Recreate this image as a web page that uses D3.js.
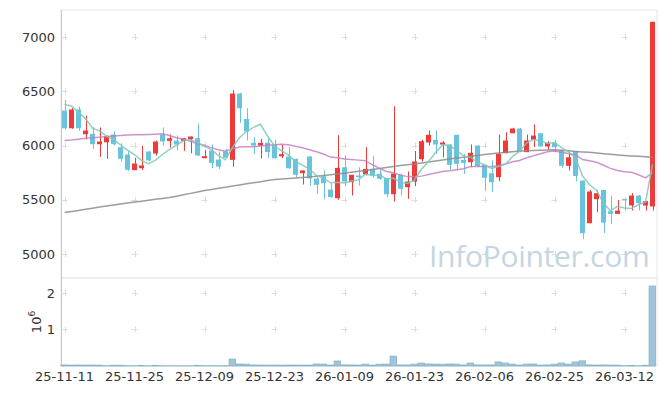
<!DOCTYPE html>
<html><head><meta charset="utf-8">
<script src="https://cdn.jsdelivr.net/npm/d3@7"></script>
<style>body{margin:0;background:#fff}svg{display:block}text{font-family:"DejaVu Sans",sans-serif}</style>
</head><body><svg id="c" width="665" height="396"></svg>
<script>
const dates=["25-11-11","25-11-12","25-11-13","25-11-14","25-11-17","25-11-18","25-11-19","25-11-20","25-11-21","25-11-24",
"25-11-25","25-11-26","25-11-27","25-11-28","25-12-01","25-12-02","25-12-03","25-12-04","25-12-05","25-12-08",
"25-12-09","25-12-10","25-12-11","25-12-12","25-12-15","25-12-16","25-12-17","25-12-18","25-12-19","25-12-22",
"25-12-23","25-12-24","25-12-26","25-12-29","25-12-30","26-01-02","26-01-05","26-01-06","26-01-07","26-01-08",
"26-01-09","26-01-12","26-01-13","26-01-14","26-01-15","26-01-16","26-01-19","26-01-20","26-01-21","26-01-22",
"26-01-23","26-01-26","26-01-27","26-01-28","26-01-29","26-01-30","26-02-02","26-02-03","26-02-04","26-02-05",
"26-02-06","26-02-09","26-02-10","26-02-11","26-02-12","26-02-13","26-02-19","26-02-20","26-02-23","26-02-24",
"26-02-25","26-02-26","26-02-27","26-03-03","26-03-04","26-03-05","26-03-06","26-03-09","26-03-10","26-03-11",
"26-03-12","26-03-13","26-03-16","26-03-17","26-03-18"];
const opens=[6322,6159,6332,6104,6108,6012,6030,6101,5985,5917,
5773,5791,5945,5926,6101,6043,6046,6043,6058,6067,
5883,5954,5871,5945,5868,6479,6245,6025,6000,6025,
6009,5901,5899,5877,5745,5899,5696,5717,5594,5514,
5800,5662,5724,5735,5785,5739,5699,5551,5730,5616,
5668,5874,6028,6052,6009,6009,6099,5868,5846,6000,
5822,5745,5708,5929,6113,6157,5939,6052,6113,5991,
6025,5954,5813,5947,5677,5284,5505,5591,5395,5370,
5508,5447,5539,5447,5438];
const highs=[6421,6344,6359,6276,6169,6166,6092,6132,6021,5951,
5887,5997,5950,6046,6166,6101,6092,6070,6083,6203,
5960,6009,5945,5969,6510,6486,6344,6077,6061,6061,
6052,6006,5985,5880,5770,5899,5714,5770,5653,6095,
5908,5730,5800,5985,5902,5779,5699,6362,5740,5760,
5950,6052,6138,6138,6040,6015,6099,5923,6009,6000,
5822,5862,6101,6123,6163,6160,6101,6194,6113,6040,
6052,5960,5939,5950,5677,5591,5585,5591,5536,5499,
5510,5560,5545,5490,7140];
const lows=[6147,6154,6138,6055,5970,5896,5877,6000,5853,5767,
5773,5773,5855,5908,6000,5982,5954,5951,5929,5902,
5883,5791,5785,5887,5804,6209,6046,5923,5880,5883,
5883,5883,5785,5702,5641,5629,5555,5505,5518,5500,
5625,5539,5631,5724,5705,5684,5524,5484,5539,5509,
5625,5853,6000,5923,5892,5776,5770,5739,5800,5800,
5579,5576,5671,5929,6113,5939,5939,5985,5991,5960,
5939,5795,5770,5671,5137,5284,5385,5195,5279,5370,
5401,5401,5401,5401,5401];
const closes=[6159,6332,6159,6138,6012,6037,6086,6012,5877,5776,
5834,5816,5862,6037,6037,6067,6009,6067,6083,5908,
5902,5840,5806,5887,6479,6344,6129,6000,6025,5939,
5883,5920,5791,5730,5770,5696,5638,5653,5524,5794,
5668,5730,5708,5785,5724,5693,5551,5742,5601,5668,
5853,6040,6099,6009,6028,5822,5831,5840,5933,5809,
5702,5662,5923,6046,6157,5939,6046,6092,5991,6025,
5985,5813,5892,5720,5192,5576,5560,5290,5370,5401,
5499,5539,5468,5487,7140];
const volumes=[28000,25000,27000,24000,26000,22000,9000,21000,20000,8000,
7000,18000,6000,17000,8000,5000,6000,7000,5000,19000,
8000,9000,7000,10000,190000,55000,50000,28000,25000,24000,
26000,22000,25000,27000,24000,26000,55000,52000,25000,136000,
30000,28000,26000,50000,25000,50000,52000,270000,30000,28000,
50000,80000,55000,52000,50000,55000,52000,28000,80000,30000,
27000,28000,110000,80000,52000,25000,52000,55000,26000,28000,
50000,80000,52000,110000,140000,30000,26000,28000,25000,24000,
8000,18000,7000,20000,2190000];
// moving-average values before the window is full
const ma5Head=[6378,6365,6305,6248];
const ma20Head=[6046,6050,6058,6066,6072,6077,6082,6087,6092,6096,6099,6100,6102,6105,6108,6092,6072,6058,6040];
const ma60=[5382,5392,5402,5412,5422,5433,5442,5451,5460,5470,
5479,5487,5496,5504,5512,5521,5533,5546,5559,5572,
5585,5595,5606,5616,5626,5636,5647,5657,5667,5677,
5687,5692,5696,5701,5705,5710,5717,5724,5731,5737,
5744,5753,5762,5770,5779,5788,5797,5806,5815,5822,
5829,5838,5848,5857,5867,5876,5884,5892,5900,5909,
5917,5924,5930,5937,5943,5949,5952,5955,5957,5959,
5960,5956,5951,5946,5941,5937,5931,5925,5919,5913,
5908,5904,5900,5896,5892];
const priceTicks=[5000,5500,6000,6500,7000];
const volTicks=[1e6,2e6];
const volTickLabels=["1","2"];
const xTickLabels=["25-11-11","25-11-25","25-12-09","25-12-23","26-01-09","26-01-23","26-02-06","26-02-25","26-03-12"];

const ma5=closes.map((c,i)=>i<4?ma5Head[i]:d3.mean(closes.slice(i-4,i+1)));
const ma20=closes.map((c,i)=>i<19?ma20Head[i]:d3.mean(closes.slice(i-19,i+1)));

const svg=d3.select("#c");
const L=61,R=656,PT=10,PB=278,VT=278,VB=366;
const x=d3.scaleBand().domain(dates).range([L,R]).paddingInner(0.28).paddingOuter(0.14);
const cx=d=>x(d)+x.bandwidth()/2;
const y=d3.scaleLinear().domain([4779,7249]).range([PB,PT]);
const yv=d3.scaleLinear().domain([0,2.41e6]).range([VB,VT]);
const UP="#ef3a3a",DN="#6ac3dc";

// panel frames
svg.append("rect").attr("x",L).attr("y",PT).attr("width",657-L).attr("height",PB-PT).attr("fill","none").attr("stroke","#e8e8e8");
svg.append("rect").attr("x",L).attr("y",VT).attr("width",657-L).attr("height",VB-VT).attr("fill","none").attr("stroke","#e8e8e8");
svg.append("line").attr("x1",L+0.5).attr("x2",L+0.5).attr("y1",PT).attr("y2",VB).attr("stroke","#c8c8c8");

// grid crosses
const gx=xTickLabels.map(cx);
const crosses=[];
gx.forEach(px=>{priceTicks.forEach(p=>crosses.push([px,y(p)]));volTicks.forEach(v=>crosses.push([px,yv(v)]));});
const cg=svg.append("g").attr("stroke","#dcdcdc").attr("stroke-width",1);
crosses.forEach(([a,b])=>{
  cg.append("line").attr("x1",a-3).attr("x2",a+3).attr("y1",Math.round(b)+0.5).attr("y2",Math.round(b)+0.5);
  cg.append("line").attr("x1",Math.round(a)+0.5).attr("x2",Math.round(a)+0.5).attr("y1",b-3).attr("y2",b+3);
});

// watermark
svg.append("text").attr("x",429).attr("y",267)
  .style("font-family","'Open Sans',sans-serif").style("font-size","30px").style("letter-spacing","-0.3px")
  .attr("fill","#c3d6e2").text("InfoPointer.com");

// axes
const ya=svg.append("g").attr("transform",`translate(${L},0)`).call(d3.axisLeft(y).tickValues(priceTicks).tickSize(0).tickPadding(6).tickFormat(d3.format("d")));
ya.select(".domain").remove();
const yva=svg.append("g").attr("transform",`translate(${L},0)`).call(d3.axisLeft(yv).tickValues(volTicks).tickSize(0).tickPadding(6).tickFormat((d,i)=>volTickLabels[i]));
yva.select(".domain").remove();
const xa=svg.append("g").attr("transform",`translate(0,${VB})`).call(d3.axisBottom(x).tickValues(xTickLabels).tickSize(0).tickPadding(6));
xa.select(".domain").remove();
svg.selectAll(".tick text").style("font-size","13px").attr("fill","#333");
const vl=svg.append("text").attr("transform","translate(41,322) rotate(-90)").attr("text-anchor","middle").attr("fill","#333").style("font-size","13px");
vl.append("tspan").text("10");
vl.append("tspan").attr("dy",-6).style("font-size","9px").text("6");

// volume bars
svg.append("g").selectAll("rect").data(volumes).join("rect")
  .attr("x",(d,i)=>x(dates[i])-0.9).attr("width",x.step()-0.6)
  .attr("y",d=>yv(d)).attr("height",d=>VB-yv(d))
  .attr("fill","#9fc5d8").attr("stroke","#86b2c8").attr("stroke-width",0.8);

// candles
const cgp=svg.append("g");
dates.forEach((d,i)=>{
  const col=closes[i]>=opens[i]?UP:DN;
  const c=Math.round(cx(d))+0.5;
  cgp.append("line").attr("x1",c).attr("x2",c).attr("y1",y(highs[i])).attr("y2",y(lows[i])).attr("stroke",col).attr("stroke-width",1);
  const t=y(Math.max(opens[i],closes[i])),b=y(Math.min(opens[i],closes[i]));
  cgp.append("rect").attr("x",x(d)).attr("width",x.bandwidth()).attr("y",t).attr("height",Math.max(1,b-t)).attr("fill",col);
});

// moving averages
const line=arr=>d3.line().x((v,i)=>cx(dates[i])).y(v=>y(v))(arr);
svg.append("path").attr("d",line(ma60)).attr("fill","none").attr("stroke","#8c8c8c").attr("stroke-width",1.5).attr("opacity",0.85);
svg.append("path").attr("d",line(ma20)).attr("fill","none").attr("stroke","#c27bbf").attr("stroke-width",1.5).attr("opacity",0.8);
svg.append("path").attr("d",line(ma5)).attr("fill","none").attr("stroke","#7cc9b8").attr("stroke-width",1.5).attr("opacity",0.85);
</script></body></html>
